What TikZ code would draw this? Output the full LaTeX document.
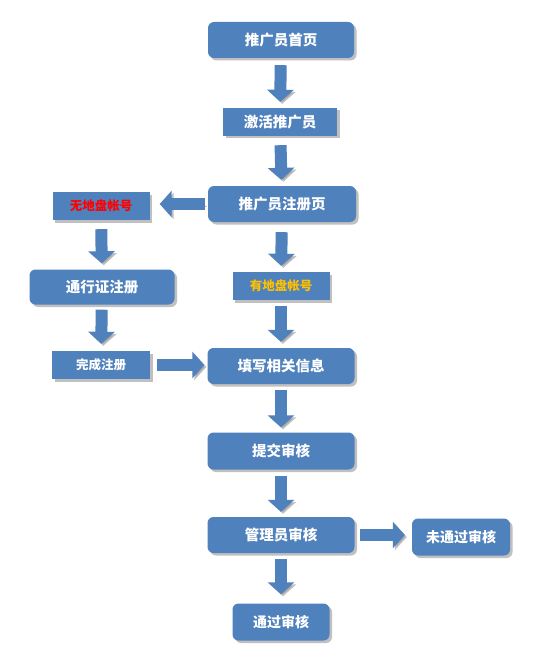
\documentclass[tikz,border=0pt]{standalone}
\usepackage{fontspec}
\newfontfamily\cjk{Noto Sans CJK SC}
\usetikzlibrary{arrows.meta,shadows}
\definecolor{boxblue}{RGB}{79,129,189}
\definecolor{shad}{RGB}{150,150,150}
\definecolor{goldtxt}{RGB}{255,192,0}
\definecolor{redtxt}{RGB}{255,0,0}
\begin{document}
\begin{tikzpicture}[x=1pt,y=-1pt,
  base/.style={fill=boxblue, text=white, inner sep=0pt, align=center,
     drop shadow={shadow xshift=2.5pt, shadow yshift=-2.5pt, fill=shad, opacity=0.6},
     font=\cjk\bfseries},
  bigbox/.style={base, rounded corners=6pt, font=\cjk\bfseries\fontsize{14.5}{16}\selectfont},
  smallbox/.style={base, font=\cjk\bfseries\fontsize{12.5}{14}\selectfont},
  smallround/.style={base, rounded corners=6pt, font=\cjk\bfseries\fontsize{14}{16}\selectfont},
  conn/.style={draw=boxblue, line width=12pt,
     -{Triangle[width=26pt,length=12pt]},
     preaction={draw=shad, opacity=0.6, transform canvas={shift={(2pt,-2pt)}}}},
]
\useasboundingbox (0,0) rectangle (538,663);
\fill[white] (0,0) rectangle (538,663);

\node[bigbox, minimum width=146pt, minimum height=36pt] (n1) at (281,40) {推广员首页};
\node[smallbox, minimum width=114pt, minimum height=28pt, font=\cjk\bfseries\fontsize{14.5}{16}\selectfont] (n2) at (280,122) {激活推广员};
\node[bigbox, minimum width=148pt, minimum height=36pt] (n3) at (282,204) {推广员注册页};
\node[smallbox, minimum width=97pt, minimum height=28pt, text=redtxt] (n4) at (101,206) {无地盘帐号};
\node[bigbox, minimum width=145pt, minimum height=35pt] (n5) at (102,287) {通行证注册};
\node[smallbox, minimum width=97pt, minimum height=28pt, text=goldtxt] (n6) at (281,286) {有地盘帐号};
\node[smallbox, minimum width=98pt, minimum height=28pt] (n7) at (101,365) {完成注册};
\node[bigbox, minimum width=147pt, minimum height=36pt] (n8) at (281,366) {填写相关信息};
\node[bigbox, minimum width=147pt, minimum height=37pt] (n9) at (281,451) {提交审核};
\node[bigbox, minimum width=147pt, minimum height=36pt] (n10) at (281,535) {管理员审核};
\node[smallround, minimum width=98pt, minimum height=37pt] (n11) at (461,537) {未通过审核};
\node[smallround, minimum width=97pt, minimum height=37pt] (n12) at (281,622) {通过审核};

\draw[conn, shorten <=7pt, shorten >=6pt] (n1) -- (n2);
\draw[conn, shorten <=9pt, shorten >=6pt] (n2) -- (n3);
\draw[conn, shorten <=3pt, shorten >=10pt] (n3.west) -- (n4.east |- n3.west);
\draw[conn, shorten <=9pt, shorten >=6pt] (n4) -- (n5);
\draw[conn, shorten <=10pt, shorten >=6pt] (n3) -- (n6);
\draw[conn, shorten <=5pt, shorten >=7pt] (n5) -- (n7);
\draw[conn, shorten <=6pt, shorten >=6pt] (n6) -- (n8);
\draw[conn, shorten <=7pt, shorten >=3pt] (n7.east) -- (n8.west |- n7.east);
\draw[conn, shorten <=6pt, shorten >=5pt] (n8) -- (n9);
\draw[conn, shorten <=6pt, shorten >=5pt] (n9) -- (n10);
\draw[conn, shorten <=5pt, shorten >=7pt] (n10.east) -- (n11.west |- n10.east);
\draw[conn, shorten <=6pt, shorten >=9pt] (n10) -- (n12);
\end{tikzpicture}
\end{document}
